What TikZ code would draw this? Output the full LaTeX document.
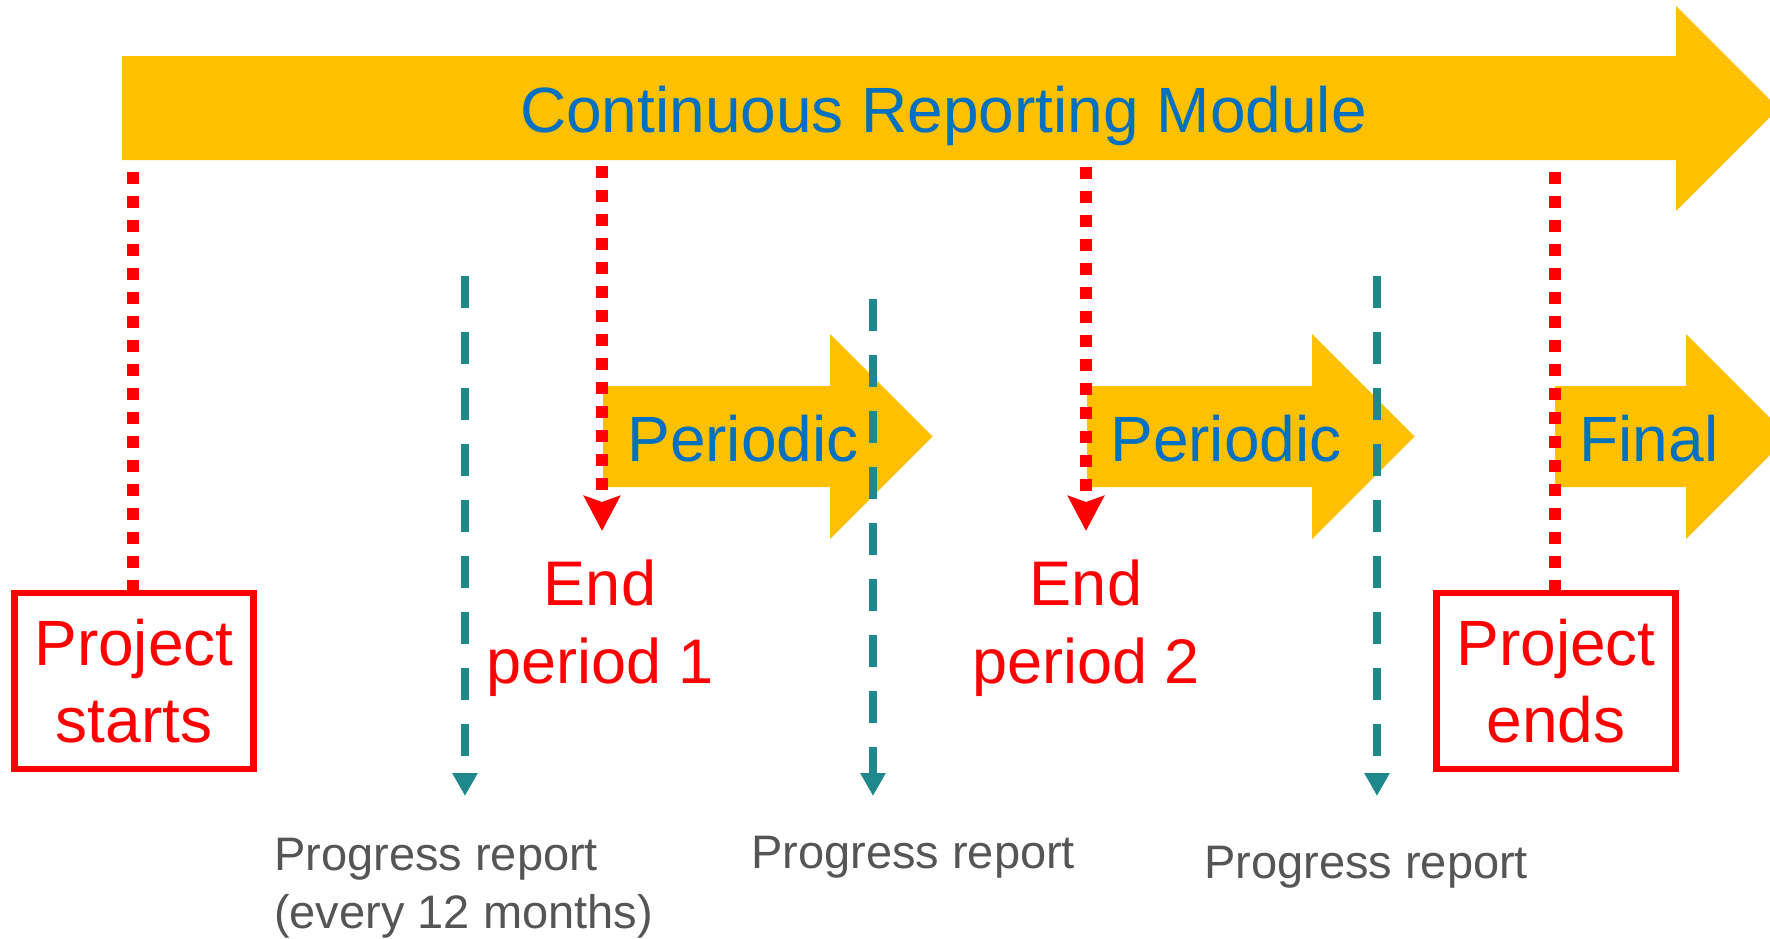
\documentclass[tikz,border=0pt]{standalone}
\usepackage{fontspec}
\setmainfont{Liberation Sans}
\usetikzlibrary{arrows.meta}
\definecolor{amber}{RGB}{255,192,0}
\definecolor{modblue}{RGB}{0,112,192}
\definecolor{markred}{RGB}{255,0,0}
\definecolor{teal}{RGB}{31,136,138}
\definecolor{notegrey}{RGB}{85,85,85}
\tikzset{
  band/.style={fill=amber, draw=none},
  bandtext/.style={text=modblue, font=\fontsize{64}{70}\selectfont, anchor=base, inner sep=0pt},
  milestone/.style={draw=markred, line width=6.5pt, minimum width=239pt, minimum height=176pt,
    text=markred, align=center, inner sep=0pt, font=\fontsize{64}{77}\selectfont},
  milestonetext/.style={text=markred, align=center, inner sep=0pt, font=\fontsize{63}{78}\selectfont},
  reddots/.style={draw=markred, line width=12pt, dash pattern=on 12pt off 12pt},
  reddrop/.style={reddots, -{Stealth[length=35pt, width=36pt, inset=6pt]}},
  tealdash/.style={draw=teal, line width=8pt, dash pattern=on 32pt off 24pt,
    -{Triangle[length=23pt, width=24pt]}},
  note/.style={text=notegrey, font=\fontsize{47}{58}\selectfont, align=left, inner sep=0pt, anchor=base west},
}
\begin{document}
\begin{tikzpicture}[x=1pt, y=-1pt]
\useasboundingbox (0,0) rectangle (1770,938);

% long arrow across the top
\fill[band] (122,56) -- (1676,56) -- (1676,6) -- (1778.5,108.5) -- (1676,211)
  -- (1676,160) -- (122,160) -- cycle;
\node[bandtext] (crm) at (943.5,132) {Continuous Reporting Module};

% short period arrows
\fill[band] (603,386) -- (830,386) -- (830,334) -- (932.5,436.5) -- (830,539)
  -- (830,487) -- (603,487) -- cycle;
\node[bandtext] (per1) at (743,461) {Periodic};
\fill[band] (1087,386) -- (1312,386) -- (1312,334) -- (1414.5,436.5) -- (1312,539)
  -- (1312,487) -- (1087,487) -- cycle;
\node[bandtext] (per2) at (1226,461) {Periodic};
\fill[band] (1555,386) -- (1686,386) -- (1686,334) -- (1788.5,436.5) -- (1686,539)
  -- (1686,487) -- (1555,487) -- cycle;
\node[bandtext] (fin) at (1649,461) {Final};

% milestones (multi-line text nodes sit on the baseline of their last line)
\node[milestone] (start) at (134,681) {Project\\starts};
\node[milestone] (stop) at (1556,681) {Project\\ends};
\node[milestonetext, anchor=base] (end1) at (600,683) {End\\period 1};
\node[milestonetext, anchor=base] (end2) at (1086,683) {End\\period 2};

% red markers from the reporting module
\coordinate (r1) at (133,172);
\coordinate (r2) at (602,166);
\coordinate (r3) at (1086,167);
\coordinate (r4) at (1555,172);
\coordinate (e1) at (602,531);
\coordinate (e2) at (1086,531);
\draw[reddots] (r1) -- (r1 |- start.north);
\draw[reddrop] (r2) -- (e1);
\draw[reddrop] (r3) -- (e2);
\draw[reddots] (r4) -- (r4 |- stop.north);

% progress report markers
\coordinate (p1) at (465,276);
\coordinate (p2) at (873,299);
\coordinate (p3) at (1377,276);
\coordinate (q1) at (465,796);
\coordinate (q2) at (873,796);
\coordinate (q3) at (1377,796);
\draw[tealdash] (p1) -- (q1);
\draw[tealdash] (p2) -- (q2);
\draw[tealdash] (p3) -- (q3);

\node[note] (pr1) at (274,928) {Progress report\\(every 12 months)};
\node[note] (pr2) at (751,868) {Progress report};
\node[note] (pr3) at (1204,878) {Progress report};
\end{tikzpicture}
\end{document}
